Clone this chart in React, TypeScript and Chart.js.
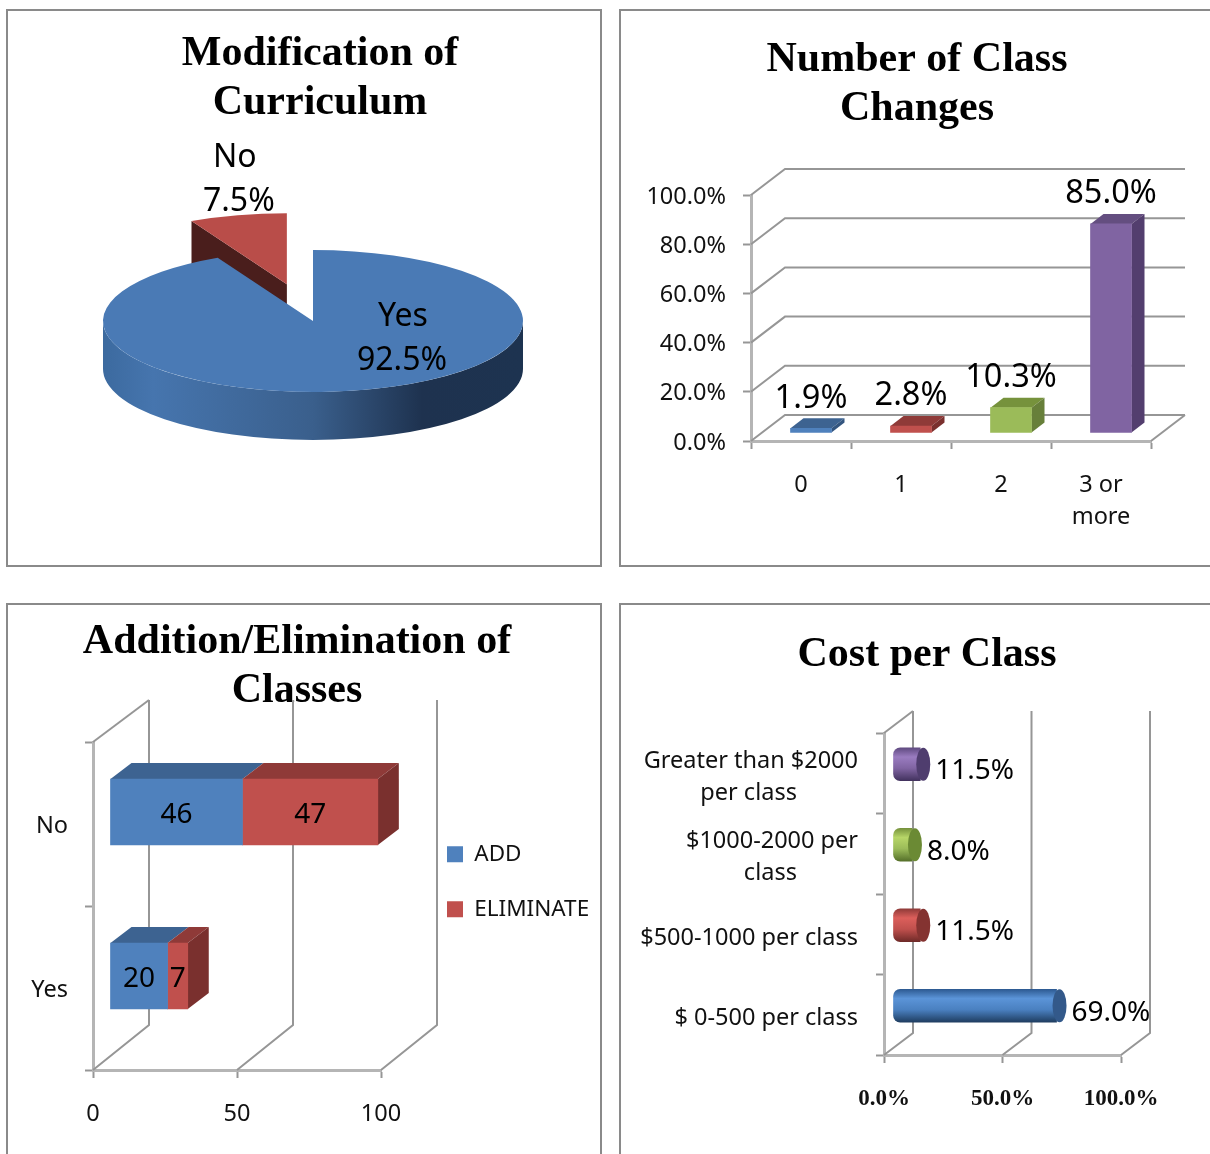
import React, { useEffect, useRef } from 'react';
import { Chart, registerables } from 'chart.js';

Chart.register(...registerables);

const SANS = '"Noto Sans"';
const SERIF = '"Liberation Serif"';

const pieCategories = ['Yes', 'No'];
const pieValues = [92.5, 7.5];

const changeCategories: any[] = ['0', '1', '2', ['3 or', 'more']];
const changeValues = [1.9, 2.8, 10.3, 85.0];

const addElimCategories = ['Yes', 'No'];
const addValues = [20, 46];
const eliminateValues = [7, 47];

const costCategories: any[] = [
  '$ 0-500 per class',
  '$500-1000 per class',
  ['$1000-2000 per', 'class' + ' '.repeat(10)],
  ['Greater than $2000', 'per class' + ' '.repeat(10)],
];
const costValues = [69.0, 11.5, 8.0, 11.5];

const BLUE = ['#4f81bd', '#3d6391', '#33557f'];
const RED = ['#c0504d', '#8f3a38', '#7a302e'];
const GREEN = ['#9bbb59', '#76923c', '#677f3a'];
const PURPLE = ['#8064a2', '#644e80', '#533e6e'];

const CYL = [
  ['#2d5a92', '#5b94d8', '#4a80c0', '#1f3d60', '#33598a'],
  ['#8f3a38', '#dc5f5b', '#c0504d', '#6e2a28', '#843331'],
  ['#76923c', '#b7d668', '#9bbb59', '#55702a', '#6b8a34'],
  ['#5f4a80', '#9a7cc0', '#8064a2', '#42325e', '#4f3d6e'],
];

const GRID = '#969696';
const AXIS = '#b5b5b5';
const TEXT = '#111';

type Rect = { x: number; y: number; w: number; h: number };
const C1: Rect = { x: 9, y: 12, w: 590, h: 552 };
const C2: Rect = { x: 622, y: 12, w: 588, h: 552 };
const C3: Rect = { x: 9, y: 606, w: 590, h: 548 };
const C4: Rect = { x: 622, y: 606, w: 588, h: 548 };

const titleOpts = (lines: string[]) => ({
  display: true,
  text: lines,
  color: '#000',
  padding: 0,
  font: { family: SERIF, size: 42, weight: 'bold', lineHeight: 49 / 42 },
});

const fitW = (w: number) => (s: any) => {
  s.width = w;
  s.paddingTop = s.paddingBottom = s.paddingLeft = s.paddingRight = 0;
};
const fitH = (h: number) => (s: any) => {
  s.height = h;
  s.paddingTop = s.paddingBottom = s.paddingLeft = s.paddingRight = 0;
};

const axisLook = {
  grid: { display: true, drawOnChartArea: false, drawTicks: true, tickLength: 8, tickColor: GRID, tickWidth: 2 },
  border: { display: true, color: AXIS, width: 3 },
};

const place = (rect: Rect, tx: number, cy: number, legend?: { left: number; top: number }) => ({
  id: 'place',
  beforeDraw(chart: any) {
    const t = chart.titleBlock;
    t.left = tx - rect.x - 500;
    t.right = tx - rect.x + 500;
    t.top = cy - rect.y - 24.5;
    if (legend && chart.legend) {
      chart.legend.left = legend.left - rect.x;
      chart.legend.top = legend.top - rect.y;
      chart.legend.right = chart.legend.left + 300;
      chart.legend.bottom = chart.legend.top + 300;
    }
  },
});

const poly = (ctx: any, pts: number[][], fill: string) => {
  ctx.beginPath();
  pts.forEach((p, i) => (i ? ctx.lineTo(p[0], p[1]) : ctx.moveTo(p[0], p[1])));
  ctx.closePath();
  ctx.fillStyle = fill;
  ctx.fill();
};
const line = (ctx: any, pts: number[][], color = GRID, w = 2) => {
  ctx.beginPath();
  pts.forEach((p, i) => (i ? ctx.lineTo(p[0], p[1]) : ctx.moveTo(p[0], p[1])));
  ctx.strokeStyle = color;
  ctx.lineWidth = w;
  ctx.stroke();
};
const label = (ctx: any, text: string, x: number, y: number, size: number, align = 'center') => {
  ctx.save();
  ctx.font = `${size}px ${SANS}`;
  ctx.fillStyle = '#000';
  ctx.textAlign = align;
  ctx.textBaseline = 'middle';
  ctx.fillText(text, x, y);
  ctx.restore();
};

const SQUASH = 0.338;
const DEPTH = 48;
const EXPLODE = 112;

const piePlugin = {
  id: 'pie3d',
  beforeDatasetsDraw(chart: any) {
    const ctx = chart.ctx;
    const [yes, no] = chart.getDatasetMeta(0).data;
    const cx = yes.x;
    const cy = yes.y;
    const R = yes.outerRadius;
    const mid = (no.startAngle + no.endAngle) / 2;
    const ox = Math.cos(mid) * EXPLODE;
    const oy = Math.sin(mid) * EXPLODE;

    const tipX = cx + ox;
    const tipY = cy + oy * SQUASH;
    const edgeX = tipX + Math.cos(no.startAngle) * R;
    const edgeY = tipY + Math.sin(no.startAngle) * R * SQUASH;
    poly(ctx, [[tipX, tipY], [edgeX, edgeY], [edgeX, edgeY + DEPTH], [tipX, tipY + DEPTH]], '#4a1e1c');

    const project = () => {
      ctx.translate(cx, cy);
      ctx.scale(1, SQUASH);
      ctx.translate(-cx, -cy);
    };
    ctx.save();
    project();
    ctx.translate(ox, oy);
    no.draw(ctx);
    ctx.restore();

    const g = ctx.createLinearGradient(cx - R, 0, cx + R, 0);
    g.addColorStop(0, '#3c6a9f');
    g.addColorStop(0.12, '#4675ae');
    g.addColorStop(0.5, '#3a5f8c');
    g.addColorStop(0.76, '#1e324f');
    g.addColorStop(1, '#1d3350');
    ctx.beginPath();
    ctx.moveTo(cx + R, cy);
    ctx.ellipse(cx, cy, R, R * SQUASH, 0, 0, Math.PI, false);
    ctx.lineTo(cx - R, cy + DEPTH);
    ctx.ellipse(cx, cy + DEPTH, R, R * SQUASH, 0, Math.PI, 0, true);
    ctx.closePath();
    ctx.fillStyle = g;
    ctx.fill();

    ctx.save();
    project();
    yes.draw(ctx);
    ctx.restore();

    label(ctx, pieCategories[0], cx + 90, cy - 4, 32);
    label(ctx, `${pieValues[0].toFixed(1)}%`, cx + 89, cy + 40, 32);
    label(ctx, pieCategories[1], tipX - 52, tipY - 126, 32);
    label(ctx, `${pieValues[1].toFixed(1)}%`, tipX - 48, tipY - 82, 32);
    return false;
  },
};

const BAR_SHIFT_X = 10;
const BAR_SHIFT_Y = -8;
const B_DX = 13;
const B_DY = 10;
const changeColors = [BLUE, RED, GREEN, PURPLE];

const changePlugin = {
  id: 'bars3d',
  beforeDatasetsDraw(chart: any) {
    const ctx = chart.ctx;
    const { x, y } = chart.scales;
    const dx = 34;
    const dy = 26;
    y.ticks.forEach((t: any) => {
      const py = y.getPixelForValue(t.value);
      line(ctx, [[x.left, py], [x.left + dx, py - dy], [x.right + dx, py - dy]]);
    });
    const by = y.getPixelForValue(0);
    line(ctx, [[x.right, by], [x.right + dx, by - dy]]);

    ctx.save();
    ctx.translate(BAR_SHIFT_X, BAR_SHIFT_Y);
    chart.getDatasetMeta(0).data.forEach((b: any, i: number) => {
      const x0 = b.x - b.width / 2;
      const x1 = b.x + b.width / 2;
      const c = changeColors[i];
      poly(ctx, [[x0, b.y], [x0 + B_DX, b.y - B_DY], [x1 + B_DX, b.y - B_DY], [x1, b.y]], c[1]);
      poly(ctx, [[x1, b.y], [x1 + B_DX, b.y - B_DY], [x1 + B_DX, b.base - B_DY], [x1, b.base]], c[2]);
    });
  },
  afterDatasetsDraw(chart: any) {
    const ctx = chart.ctx;
    ctx.restore();
    chart.getDatasetMeta(0).data.forEach((b: any, i: number) => {
      label(ctx, `${changeValues[i].toFixed(1)}%`, b.x + BAR_SHIFT_X, b.y + BAR_SHIFT_Y - 30, 32.5);
    });
  },
};

const S3X = 17;
const S3Y = -12;
const D3X = 21;
const D3Y = 16;

const addElimPlugin = {
  id: 'stack3d',
  beforeDatasetsDraw(chart: any) {
    const ctx = chart.ctx;
    const { x, y } = chart.scales;
    const dx = 56;
    const dy = 45;
    const topRise = 42;
    x.ticks.forEach((t: any) => {
      const px = x.getPixelForValue(t.value);
      line(ctx, [[px, y.bottom], [px + dx, y.bottom - dy], [px + dx, y.top - topRise]]);
    });
    line(ctx, [[x.left, y.top], [x.left + dx, y.top - topRise]]);

    ctx.save();
    ctx.translate(S3X, S3Y);
    const colors = [BLUE, RED];
    [0, 1].forEach((ds) => {
      chart.getDatasetMeta(ds).data.forEach((b: any) => {
        const top = b.y - b.height / 2;
        const bot = b.y + b.height / 2;
        poly(ctx, [[b.base, top], [b.base + D3X, top - D3Y], [b.x + D3X, top - D3Y], [b.x, top]], colors[ds][1]);
        if (ds === 1) {
          poly(ctx, [[b.x, top], [b.x + D3X, top - D3Y], [b.x + D3X, bot - D3Y], [b.x, bot]], colors[ds][2]);
        }
      });
    });
  },
  afterDatasetsDraw(chart: any) {
    const ctx = chart.ctx;
    ctx.restore();
    [addValues, eliminateValues].forEach((vals, ds) => {
      chart.getDatasetMeta(ds).data.forEach((b: any, i: number) => {
        label(ctx, String(vals[i]), (b.base + b.x) / 2 + S3X, b.y + S3Y + 3, 28);
      });
    });
  },
};

const S4X = 9;
const S4Y = -9;
const CAP_RX = 7;
const CAP_SHIFT = 3;

const costPlugin = {
  id: 'cyl3d',
  beforeDatasetsDraw(chart: any) {
    const ctx = chart.ctx;
    const { x, y } = chart.scales;
    const dx = 29;
    const dy = 22;
    x.ticks.forEach((t: any) => {
      const px = x.getPixelForValue(t.value);
      line(ctx, [[px, y.bottom], [px + dx, y.bottom - dy], [px + dx, y.top - dy]]);
    });
    line(ctx, [[x.left, y.top], [x.left + dx, y.top - dy]]);
    ctx.save();
    ctx.translate(S4X, S4Y);
  },
  afterDatasetsDraw(chart: any) {
    const ctx = chart.ctx;
    const bars = chart.getDatasetMeta(0).data;
    bars.forEach((b: any, i: number) => {
      ctx.beginPath();
      ctx.ellipse(b.x + CAP_SHIFT, b.y, CAP_RX, b.height / 2, 0, 0, Math.PI * 2);
      ctx.fillStyle = CYL[i][4];
      ctx.fill();
    });
    ctx.restore();
    bars.forEach((b: any, i: number) => {
      label(ctx, `${costValues[i].toFixed(1)}%`, b.x + S4X + 15, b.y + S4Y + 7, 28, 'left');
    });
  },
};

const cylFill = (c: any) => {
  const i = c.dataIndex;
  if (i === undefined || !c.chart.chartArea) return CYL[0][2];
  const ctx = c.chart.ctx;
  const py = c.chart.scales.y.getPixelForValue(i);
  const g = ctx.createLinearGradient(0, py - 16.5, 0, py + 16.5);
  const s = CYL[i];
  g.addColorStop(0, s[0]);
  g.addColorStop(0.28, s[1]);
  g.addColorStop(0.62, s[2]);
  g.addColorStop(1, s[3]);
  return g;
};

const tickFont = { family: SANS, size: 23.5, lineHeight: 32 / 23.5 };

export default function App() {
  const r1 = useRef<HTMLCanvasElement>(null);
  const r2 = useRef<HTMLCanvasElement>(null);
  const r3 = useRef<HTMLCanvasElement>(null);
  const r4 = useRef<HTMLCanvasElement>(null);

  useEffect(() => {
    const common = { responsive: false, animation: false as const, devicePixelRatio: 1 };

    const c1 = new Chart(r1.current as any, {
      type: 'pie',
      data: {
        labels: pieCategories,
        datasets: [{ data: pieValues, backgroundColor: ['#4a7ab5', '#b94d49'], borderWidth: 0, radius: 210 }],
      },
      options: {
        ...common,
        layout: { padding: { left: 18, right: 0, top: 12, bottom: 44 } },
        plugins: {
          legend: { display: false },
          tooltip: { enabled: false },
          title: titleOpts(['Modification of', 'Curriculum']),
        },
      } as any,
      plugins: [place(C1, 320, 54), piePlugin] as any,
    });

    const area2 = { a: 751, b: 195, c: 1151, d: 441 };
    const c2 = new Chart(r2.current as any, {
      type: 'bar',
      data: {
        labels: changeCategories,
        datasets: [{
          data: changeValues,
          backgroundColor: changeColors.map((c) => c[0]),
          borderWidth: 0,
          barThickness: 41,
          clip: false,
        }],
      },
      options: {
        ...common,
        layout: { padding: { left: 0, right: C2.w - (area2.c - C2.x), top: area2.b - C2.y - 98, bottom: 0 } },
        plugins: {
          legend: { display: false },
          tooltip: { enabled: false },
          title: titleOpts(['Number of Class', 'Changes']),
        },
        scales: {
          x: {
            ...axisLook,
            afterFit: fitH(C2.y + C2.h - area2.d),
            ticks: { color: TEXT, font: tickFont, padding: 20, maxRotation: 0, autoSkip: false },
          },
          y: {
            ...axisLook,
            min: 0,
            max: 100,
            afterFit: fitW(area2.a - C2.x),
            ticks: { stepSize: 20, color: TEXT, font: tickFont, padding: 17, labelOffset: 2, callback: (v: number) => `${v.toFixed(1)}%` },
          },
        },
      } as any,
      plugins: [place(C2, 917, 60), changePlugin] as any,
    });

    const area3 = { a: 93, b: 742, c: 381, d: 1070 };
    const c3 = new Chart(r3.current as any, {
      type: 'bar',
      data: {
        labels: addElimCategories,
        datasets: [
          { label: 'ADD', data: addValues, backgroundColor: BLUE[0], borderWidth: 0, barThickness: 66, clip: false },
          { label: 'ELIMINATE', data: eliminateValues, backgroundColor: RED[0], borderWidth: 0, barThickness: 66, clip: false },
        ],
      },
      options: {
        ...common,
        indexAxis: 'y',
        layout: { padding: { left: 0, right: C3.w - (area3.c - C3.x), top: area3.b - C3.y - 98, bottom: 0 } },
        plugins: {
          tooltip: { enabled: false },
          title: titleOpts(['Addition/Elimination of', 'Classes']),
          legend: {
            position: 'chartArea',
            fullSize: false,
            align: 'start',
            labels: { color: TEXT, boxWidth: 16, boxHeight: 16, padding: 32.5, font: { family: SANS, size: 22.5 } },
          },
        },
        scales: {
          x: {
            ...axisLook,
            stacked: true,
            min: 0,
            max: 100,
            afterFit: fitH(C3.y + C3.h - area3.d),
            ticks: { stepSize: 50, color: TEXT, font: tickFont, padding: 20, maxRotation: 0 },
          },
          y: {
            ...axisLook,
            stacked: true,
            reverse: true,
            afterFit: fitW(area3.a - C3.x),
            ticks: { color: TEXT, font: tickFont, padding: 17, labelOffset: 2, autoSkip: false },
          },
        },
      } as any,
      plugins: [place(C3, 297, 642, { left: 447 - 32.5, top: 843 - 32.5 }), addElimPlugin] as any,
    });

    const area4 = { a: 884, b: 733, c: 1121, d: 1055 };
    const c4 = new Chart(r4.current as any, {
      type: 'bar',
      data: {
        labels: costCategories,
        datasets: [{
          data: costValues,
          backgroundColor: cylFill,
          borderWidth: 0,
          borderSkipped: false,
          borderRadius: { topLeft: 7, bottomLeft: 7, topRight: 0, bottomRight: 0 },
          barThickness: 33,
          clip: false,
        }],
      },
      options: {
        ...common,
        indexAxis: 'y',
        layout: { padding: { left: 0, right: C4.w - (area4.c - C4.x), top: area4.b - C4.y - 49, bottom: 0 } },
        plugins: {
          legend: { display: false },
          tooltip: { enabled: false },
          title: titleOpts(['Cost per Class']),
        },
        scales: {
          x: {
            ...axisLook,
            min: 0,
            max: 100,
            afterFit: fitH(C4.y + C4.h - area4.d),
            ticks: {
              stepSize: 50,
              color: TEXT,
              font: { family: SERIF, size: 23, weight: 'bold' },
              padding: 22,
              maxRotation: 0,
              callback: (v: number) => `${v.toFixed(1)}%`,
            },
          },
          y: {
            ...axisLook,
            reverse: true,
            afterFit: fitW(area4.a - C4.x),
            ticks: { color: TEXT, font: tickFont, padding: 18, labelOffset: 4, autoSkip: false },
          },
        },
      } as any,
      plugins: [place(C4, 927, 655), costPlugin] as any,
    });

    return () => {
      c1.destroy();
      c2.destroy();
      c3.destroy();
      c4.destroy();
    };
  }, []);

  const frame = (x: number, y: number, w: number, h: number) => (
    <div
      style={{
        position: 'absolute', left: x, top: y, width: w, height: h,
        boxSizing: 'border-box', border: '2px solid #8a8a8a',
      }}
    />
  );
  const cv = (rect: Rect, ref: any) => (
    <canvas
      ref={ref}
      width={rect.w}
      height={rect.h}
      style={{ position: 'absolute', left: rect.x, top: rect.y, display: 'block', filter: 'blur(0.4px)' }}
    />
  );

  return (
    <div style={{ position: 'absolute', left: 0, top: 0, width: 1210, height: 1154, overflow: 'hidden', background: '#fff' }}>
      {frame(6, 9, 596, 558)}
      {frame(619, 9, 640, 558)}
      {frame(6, 603, 596, 600)}
      {frame(619, 603, 640, 600)}
      {cv(C1, r1)}
      {cv(C2, r2)}
      {cv(C3, r3)}
      {cv(C4, r4)}
    </div>
  );
}
